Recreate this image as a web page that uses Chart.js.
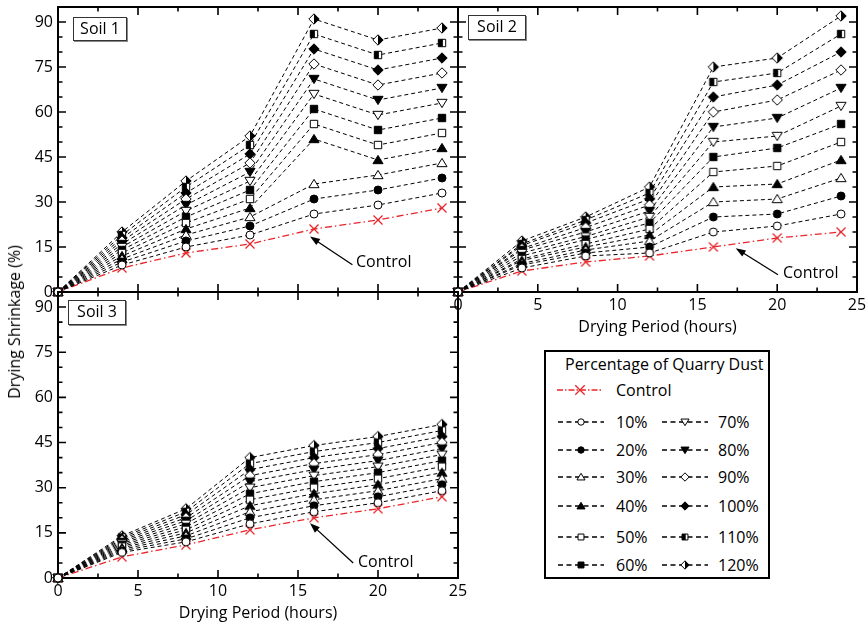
<!DOCTYPE html>
<html><head><meta charset="utf-8">
<script src="https://cdn.jsdelivr.net/npm/chart.js@4.4.1/dist/chart.umd.min.js"></script>
<style>
html,body{margin:0;padding:0;background:#fff;}
#wrap{position:relative;width:866px;height:625px;overflow:hidden;font-family:'Open Sans',sans-serif;color:#000;}
canvas.plot{position:absolute;left:0;top:0;}
.lbl{position:absolute;font-size:16px;line-height:20px;white-space:nowrap;}
.soil{position:absolute;border:1px solid #333;box-shadow:1px 1px 0 #888;background:#fff;font-size:16px;line-height:20px;text-align:center;box-sizing:border-box;}
#ytitle{position:absolute;left:14px;top:322px;transform:translate(-50%,-50%) rotate(-90deg);font-size:16px;line-height:20px;white-space:nowrap;}
#legend{position:absolute;left:544px;top:350px;width:226px;height:229px;border:2px solid #000;box-sizing:border-box;background:#fff;}
canvas.sample{position:absolute;}
</style>
</head><body>
<div id="wrap">
  <canvas id="c1" class="plot" width="866" height="625"></canvas>
  <canvas id="c2" class="plot" width="866" height="625"></canvas>
  <canvas id="c3" class="plot" width="866" height="625"></canvas>
  <div class="soil" style="left:73px;top:17px;width:54px;height:24px;">Soil 1</div>
  <div class="soil" style="left:468px;top:15px;width:58px;height:25px;">Soil 2</div>
  <div class="soil" style="left:68px;top:300px;width:58px;height:25px;">Soil 3</div>
  <div class="lbl" style="left:356px;top:251px;">Control</div>
  <div class="lbl" style="left:783px;top:262px;">Control</div>
  <div class="lbl" style="left:358px;top:551px;">Control</div>
  <div id="ytitle">Drying Shrinkage (%)</div>
  <div id="legend"></div>
</div>
<script>
// ---------------- DATA ----------------
const hours = [0, 4, 8, 12, 16, 20, 24];
const xTicks = [0, 5, 10, 15, 20, 25];
const yTicks = [0, 15, 30, 45, 60, 75, 90];
const dustLabels = ['10%','20%','30%','40%','50%','60%','70%','80%','90%','100%','110%','120%'];
const controlLabel = 'Control';

const soil1Control = [0, 8, 13, 16, 21, 24, 28];
const soil1Dust = [
  [0, 9, 15, 19, 26, 29, 33],
  [0, 10, 17, 22, 31, 34, 38],
  [0, 11, 19, 25, 36, 39, 43],
  [0, 12, 21, 28, 51, 44, 48],
  [0, 13, 23, 31, 56, 49, 53],
  [0, 14, 25, 34, 61, 54, 58],
  [0, 15, 27, 37, 66, 59, 63],
  [0, 16, 29, 40, 71, 64, 68],
  [0, 17, 31, 43, 76, 69, 73],
  [0, 18, 33, 46, 81, 74, 78],
  [0, 19, 35, 49, 86, 79, 83],
  [0, 20, 37, 52, 91, 84, 88]
];

const soil2Control = [0, 7, 10, 12, 15, 18, 20];
const soil2Dust = [
  [0, 8, 12, 13, 20, 22, 26],
  [0, 9, 13, 15, 25, 26, 32],
  [0, 9.5, 14, 17, 30, 31, 38],
  [0, 10.5, 15, 19, 35, 36, 44],
  [0, 11, 16, 21, 40, 42, 50],
  [0, 12, 17.5, 23, 45, 48, 56],
  [0, 13, 18.5, 25, 50, 52, 62],
  [0, 14, 20, 27, 55, 58, 68],
  [0, 14.5, 21.5, 29, 60, 64, 74],
  [0, 15.5, 23, 31, 65, 69, 80],
  [0, 16, 24, 33, 70, 73, 86],
  [0, 17, 25, 35, 75, 78, 92]
];

const soil3Control = [0, 7, 11, 16, 20, 23, 27];
const soil3Dust = [
  [0, 8.5, 12, 18, 22, 25, 29],
  [0, 9, 13, 20, 24, 27, 31],
  [0, 9.5, 14, 22, 26, 29, 33],
  [0, 10, 15, 24, 28, 31, 35],
  [0, 10.5, 16, 26, 30, 33, 37],
  [0, 11, 17, 28, 32, 35, 39],
  [0, 11.5, 18, 30, 34, 37, 41],
  [0, 12, 19, 32, 36, 39, 43],
  [0, 12.5, 20, 34, 38, 41, 45],
  [0, 13, 21, 36, 40, 43, 47],
  [0, 13.5, 22, 38, 42, 45, 49],
  [0, 14, 23, 40, 44, 47, 51]
];

// ---------------- STYLE ----------------
const RED = '#e8262b';
const markerTypes = ['circle','circleF','tri','triF','rect','rectF','triD','triDF','dia','diaF','halfRect','halfDia'];
const FONT = "'Open Sans', sans-serif";
Chart.defaults.font.family = FONT;
Chart.defaults.font.size = 16;
Chart.defaults.color = '#000';

function drawMarker(ctx, type, cx, cy, s) {
  ctx.save();
  if (type === 'cross') {
    const h = 4.5 * s;
    ctx.strokeStyle = RED; ctx.lineWidth = 1.3;
    ctx.beginPath();
    ctx.moveTo(cx - h, cy - h); ctx.lineTo(cx + h, cy + h);
    ctx.moveTo(cx + h, cy - h); ctx.lineTo(cx - h, cy + h);
    ctx.stroke(); ctx.restore(); return;
  }
  ctx.lineWidth = 1; ctx.strokeStyle = '#000'; ctx.fillStyle = '#fff';
  let filled = type.endsWith('F');
  let base = filled ? type.slice(0, -1) : type;
  ctx.beginPath();
  if (base === 'circle') {
    ctx.arc(cx, cy, 4 * s, 0, Math.PI * 2);
  } else if (base === 'tri') {
    const h = 4.6 * s;
    ctx.moveTo(cx, cy - h); ctx.lineTo(cx + h * 1.1, cy + h * 0.8); ctx.lineTo(cx - h * 1.1, cy + h * 0.8); ctx.closePath();
  } else if (base === 'triD') {
    const h = 4.6 * s;
    ctx.moveTo(cx, cy + h); ctx.lineTo(cx + h * 1.1, cy - h * 0.8); ctx.lineTo(cx - h * 1.1, cy - h * 0.8); ctx.closePath();
  } else if (base === 'rect' || base === 'halfRect') {
    const h = 3.7 * s;
    ctx.rect(cx - h, cy - h, 2 * h, 2 * h);
  } else if (base === 'dia' || base === 'halfDia') {
    const h = 5.2 * s;
    ctx.moveTo(cx, cy - h); ctx.lineTo(cx + h, cy); ctx.lineTo(cx, cy + h); ctx.lineTo(cx - h, cy); ctx.closePath();
  }
  if (filled) ctx.fillStyle = '#000';
  ctx.fill();
  if (base === 'halfRect') {
    const h = 3.7 * s;
    ctx.fillStyle = '#000';
    ctx.fillRect(cx - h, cy - h, 2 * h * 0.62, 2 * h);
  } else if (base === 'halfDia') {
    const h = 5.2 * s;
    ctx.fillStyle = '#000';
    ctx.beginPath(); ctx.moveTo(cx, cy - h); ctx.lineTo(cx + h, cy); ctx.lineTo(cx, cy + h); ctx.closePath(); ctx.fill();
    ctx.beginPath();
    ctx.moveTo(cx, cy - h); ctx.lineTo(cx + h, cy); ctx.lineTo(cx, cy + h); ctx.lineTo(cx - h, cy); ctx.closePath();
  }
  ctx.stroke();
  ctx.restore();
}

function markerCanvas(type) {
  const c = document.createElement('canvas');
  c.width = 14; c.height = 14;
  drawMarker(c.getContext('2d'), type, 7, 7, 1);
  return c;
}
const markerImgs = markerTypes.map(markerCanvas);
const crossImg = markerCanvas('cross');

function makeDatasets(control, dust) {
  const ds = dust.map((vals, i) => ({
    label: dustLabels[i],
    data: hours.map((h, j) => ({ x: h, y: vals[j] })),
    borderColor: '#000', borderWidth: 1, borderDash: [4, 3],
    pointStyle: markerImgs[i], pointRadius: 5, pointHoverRadius: 5,
    fill: false, tension: 0, clip: false
  }));
  ds.push({
    label: controlLabel,
    data: hours.map((h, j) => ({ x: h, y: control[j] })),
    borderColor: RED, borderWidth: 1.3, borderDash: [7, 3, 1.5, 3],
    pointStyle: crossImg, pointRadius: 5, pointHoverRadius: 5,
    fill: false, tension: 0, clip: false
  });
  return ds;
}

const framePlugin = {
  id: 'frame',
  beforeDatasetsDraw(chart) {
    const { ctx, chartArea: a, scales: { x, y } } = chart;
    ctx.save();
    ctx.strokeStyle = '#000';
    ctx.lineWidth = 1.6;
    ctx.beginPath();
    for (let v = 0; v <= 25.001; v += 2.5) {
      const px = x.getPixelForValue(v);
      const L = (Math.abs(v % 5) < 1e-6) ? 8 : 4.5;
      ctx.moveTo(px, a.bottom); ctx.lineTo(px, a.bottom - L);
      ctx.moveTo(px, a.top); ctx.lineTo(px, a.top + L);
    }
    for (let v = 0; v <= 95.001; v += 5) {
      const py = y.getPixelForValue(v);
      const L = (Math.abs(v % 15) < 1e-6) ? 8 : 4.5;
      ctx.moveTo(a.left, py); ctx.lineTo(a.left + L, py);
      ctx.moveTo(a.right, py); ctx.lineTo(a.right - L, py);
    }
    ctx.stroke();
    ctx.lineWidth = 2;
    ctx.strokeRect(a.left, a.top, a.right - a.left, a.bottom - a.top);
    ctx.restore();
  }
};

const arrowPlugin = {
  id: 'ctrlArrow',
  afterDatasetsDraw(chart, args, o) {
    if (!o || o.fx === undefined) return;
    const { ctx, scales: { x, y } } = chart;
    const x1 = x.getPixelForValue(o.fx), y1 = y.getPixelForValue(o.fy);
    const x2 = x.getPixelForValue(o.tx), y2 = y.getPixelForValue(o.ty);
    const ang = Math.atan2(y2 - y1, x2 - x1);
    const L = 10, W = 3.6;
    ctx.save();
    ctx.strokeStyle = '#000'; ctx.fillStyle = '#000'; ctx.lineWidth = 1.3;
    ctx.beginPath(); ctx.moveTo(x1, y1);
    ctx.lineTo(x2 - Math.cos(ang) * L * 0.8, y2 - Math.sin(ang) * L * 0.8); ctx.stroke();
    ctx.beginPath();
    ctx.moveTo(x2, y2);
    ctx.lineTo(x2 - Math.cos(ang) * L - Math.sin(ang) * W, y2 - Math.sin(ang) * L + Math.cos(ang) * W);
    ctx.lineTo(x2 - Math.cos(ang) * L + Math.sin(ang) * W, y2 - Math.sin(ang) * L - Math.cos(ang) * W);
    ctx.closePath(); ctx.fill();
    ctx.restore();
  }
};

function makeChart(id, control, dust, cfg) {
  return new Chart(document.getElementById(id), {
    type: 'line',
    data: { datasets: makeDatasets(control, dust) },
    plugins: [framePlugin, arrowPlugin],
    options: {
      responsive: false, animation: false, events: [],
      layout: { padding: cfg.padding },
      plugins: { legend: { display: false }, tooltip: { enabled: false }, ctrlArrow: cfg.arrow },
      scales: {
        x: {
          type: 'linear', min: 0, max: 25,
          afterBuildTicks: s => { s.ticks = xTicks.map(v => ({ value: v })); },
          afterFit: s => { s.height = cfg.xHeight; s.paddingLeft = 0; s.paddingRight = 0; },
          grid: { display: false, drawTicks: false }, border: { display: false },
          ticks: { display: cfg.xLabels, padding: 4, maxRotation: 0, autoSkip: false, font: { size: 16 } },
          title: { display: cfg.xLabels, text: 'Drying Period (hours)', padding: 0, font: { size: 16 } }
        },
        y: {
          type: 'linear', min: 0, max: 95,
          afterBuildTicks: s => { s.ticks = yTicks.map(v => ({ value: v })); },
          afterFit: s => { s.width = cfg.yWidth; s.paddingTop = 0; s.paddingBottom = 0; },
          grid: { display: false, drawTicks: false }, border: { display: false },
          ticks: { display: cfg.yLabels, padding: 5, autoSkip: false, font: { size: 16 } }
        }
      }
    }
  });
}

makeChart('c1', soil1Control, soil1Dust, {
  padding: { left: 0, top: 7, right: 408, bottom: 333 }, xHeight: 0, yWidth: 58,
  xLabels: false, yLabels: true, arrow: { fx: 18.4, fy: 9.1, tx: 15.75, ty: 18.5 }
});
makeChart('c2', soil2Control, soil2Dust, {
  padding: { left: 458, top: 7, right: 9, bottom: 288 }, xHeight: 45, yWidth: 0,
  xLabels: true, yLabels: false, arrow: { fx: 20.05, fy: 5.75, tx: 17.4, ty: 14.6 }
});
makeChart('c3', soil3Control, soil3Dust, {
  padding: { left: 0, top: 292, right: 408, bottom: 2 }, xHeight: 45, yWidth: 58,
  xLabels: true, yLabels: true, arrow: { fx: 18.45, fy: 5.0, tx: 15.75, ty: 18.2 }
});

// ---------------- LEGEND (HTML) ----------------
const wrap = document.getElementById('wrap');
function addText(text, left, cy, extra) {
  const d = document.createElement('div');
  d.className = 'lbl'; d.textContent = text;
  d.style.left = left + 'px'; d.style.top = (cy - 10) + 'px';
  if (extra) Object.assign(d.style, extra);
  wrap.appendChild(d);
}
function addSample(type, cx, cy, isControl) {
  const c = document.createElement('canvas');
  c.className = 'sample'; c.width = 50; c.height = 16;
  c.style.left = (cx - 25) + 'px'; c.style.top = (cy - 8) + 'px';
  const g = c.getContext('2d');
  g.save();
  g.strokeStyle = isControl ? RED : '#000';
  g.lineWidth = isControl ? 1.5 : 1.6;
  g.setLineDash(isControl ? [6, 2, 1.5, 2] : [5, 3.5]);
  g.beginPath(); g.moveTo(2, 8); g.lineTo(48, 8); g.stroke();
  g.restore();
  drawMarker(g, type, 25, 8, isControl ? 1.05 : 0.8);
  wrap.appendChild(c);
}
addText('Percentage of Quarry Dust', 565, 364);
addSample('cross', 580, 390, true);
addText(controlLabel, 616, 390);
const rowY = [421.5, 449.5, 477, 505.5, 537, 565];
dustLabels.forEach((lab, i) => {
  const col = i < 6 ? 0 : 1;
  const r = i % 6;
  const cx = col === 0 ? 580.5 : 685;
  const tx = col === 0 ? 616 : 718;
  addSample(markerTypes[i], cx, rowY[r], false);
  addText(lab, tx, rowY[r]);
});
</script>
</body></html>
